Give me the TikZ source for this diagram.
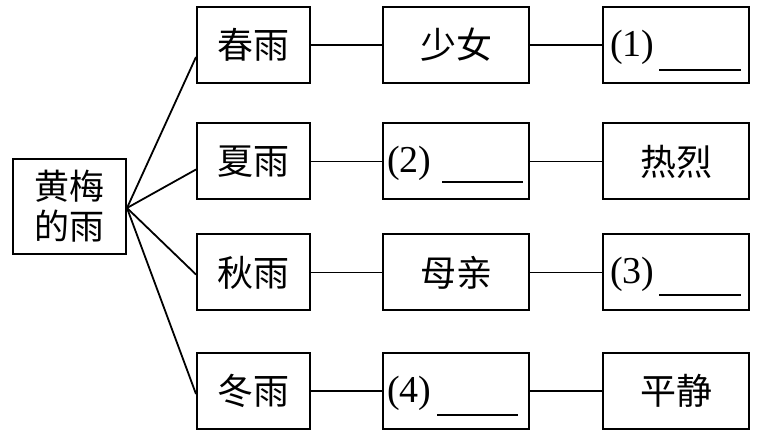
\documentclass[tikz,border=0pt]{standalone}
\usepackage{fontspec}
\setmainfont{Liberation Serif}
\newfontfamily\cjk{Noto Sans CJK SC}
\tikzset{
  box/.style={draw, line width=2pt, inner sep=0pt, minimum width=146pt, minimum height=76pt,
    font=\cjk\fontsize{36}{40}\selectfont},
  sbox/.style={box, minimum width=113pt},
  num/.style={inner sep=0pt, anchor=west, font=\fontsize{38}{40}\selectfont},
  conn/.style={line width=1.8pt},
  blank/.style={line width=2.2pt}
}
\begin{document}
\begin{tikzpicture}[x=1pt,y=-1pt]
\useasboundingbox (0,0) rectangle (757,435);
% root
\node[box, minimum width=113pt, minimum height=95pt, align=center, font=\cjk\fontsize{35}{40}\selectfont] (root) at (69.5,206.5) {黄梅\\的雨};
% column 1
\node[sbox] (a1) at (253.5,45) {春雨};
\node[sbox] (a2) at (253.5,161.5) {夏雨};
\node[sbox] (a3) at (253.5,272.5) {秋雨};
\node[sbox] (a4) at (253.5,391) {冬雨};
% column 2
\node[box] (b1) at (456,45) {少女};
\node[box] (b2) at (456,161.5) {};
\node[box] (b3) at (456,272.5) {母亲};
\node[box] (b4) at (456,391) {};
% column 3
\node[box] (c1) at (676,45) {};
\node[box] (c2) at (676,161.5) {热烈};
\node[box] (c3) at (676,272.5) {};
\node[box] (c4) at (676,391) {平静};
% blanks
\node[num] (n1) at ([xshift=8pt,yshift=-2pt]c1.west) {(1)};
\coordinate (u1a) at (659,70); \coordinate (u1b) at (741,70);
\draw[blank] (u1a) -- (u1b);
\node[num] (n2) at ([xshift=5pt,yshift=-2pt]b2.west) {(2)};
\coordinate (u2a) at (442,182); \coordinate (u2b) at (523,182);
\draw[blank] (u2a) -- (u2b);
\node[num] (n3) at ([xshift=8pt,yshift=-2pt]c3.west) {(3)};
\coordinate (u3a) at (659,295); \coordinate (u3b) at (741,295);
\draw[blank] (u3a) -- (u3b);
\node[num] (n4) at ([xshift=5pt,yshift=-2pt]b4.west) {(4)};
\coordinate (u4a) at (437,415); \coordinate (u4b) at (518,415);
\draw[blank] (u4a) -- (u4b);
% root connectors
\coordinate (r) at (127,208);
\draw[conn] (r) -- ([yshift=-12pt]a1.west);
\draw[conn] (r) -- ([yshift=-8pt]a2.west);
\draw[conn] (r) -- ([yshift=-2pt]a3.west);
\draw[conn] (r) -- ([yshift=-3pt]a4.west);
% horizontal connectors
\foreach \i in {1,2,3,4}{
  \draw[conn] (a\i.east) -- (b\i.west);
  \draw[conn] (b\i.east) -- (c\i.west);
}
\end{tikzpicture}
\end{document}
